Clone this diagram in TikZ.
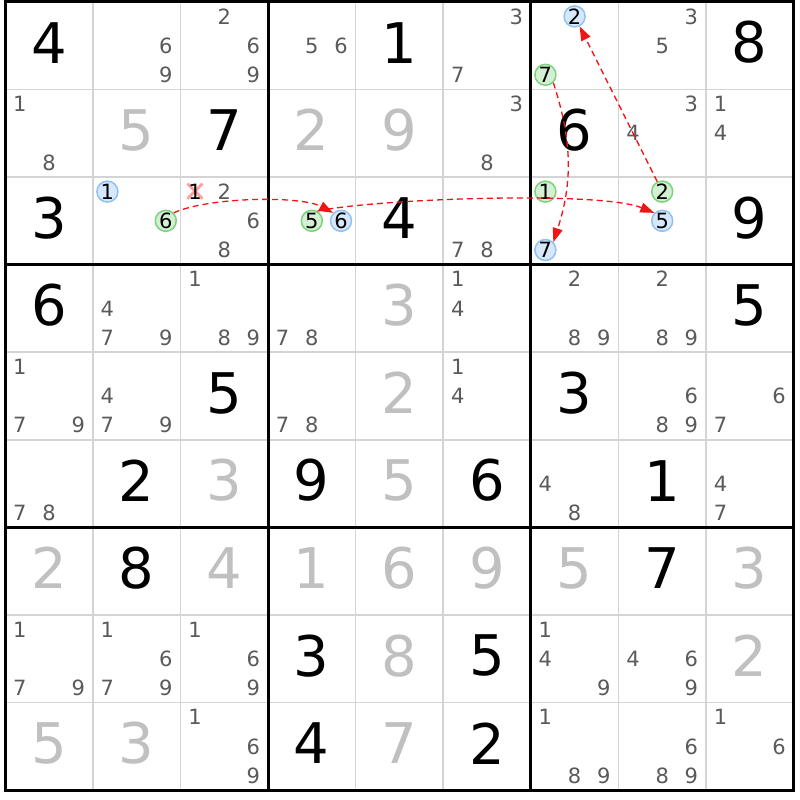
\documentclass[tikz,border=0pt]{standalone}
\usepackage{fontspec}
\setmainfont{DejaVu Sans}
\usetikzlibrary{arrows.meta}
\definecolor{candgray}{RGB}{90,90,90}
\definecolor{solvedgray}{RGB}{192,192,192}
\definecolor{gridgray}{RGB}{212,212,212}
\definecolor{ongreen}{RGB}{125,210,125}
\definecolor{ongreenfill}{RGB}{212,240,212}
\definecolor{offblue}{RGB}{145,192,242}
\definecolor{offbluefill}{RGB}{215,232,252}
\definecolor{chainred}{RGB}{240,20,20}
\definecolor{xpink}{RGB}{255,160,160}
\newcommand\CandD[4][cand]{%
  \pgfmathsetmacro\sdX{5.2+87.6*(#3-1)+14.6+29.2*mod(#4-1,3)}%
  \pgfmathsetmacro\sdY{1.8+87.6*(#2-1)+14.6+29.2*floor((#4-1)/3)}%
  \node[#1] (k#2#3#4) at (\sdX,-\sdY) {#4};}
\newcommand\BigD[4][given]{%
  \pgfmathsetmacro\sdX{5.2+87.6*(#3-0.5)}%
  \pgfmathsetmacro\sdY{1.8+87.6*(#2-0.5)-3}%
  \node[#1] (g#2#3) at (\sdX,-\sdY) {#4};}
\begin{document}
\begin{tikzpicture}[x=1pt,y=1pt,
  given/.style={font=\fontsize{56}{56}\selectfont, text=black, inner sep=0pt},
  solved/.style={given, text=solvedgray},
  cand/.style={font=\fontsize{21}{21}\selectfont, text=candgray, inner sep=0pt},
  candx/.style={cand, text=black},
  oncand/.style={cand, text=black, circle, draw=ongreen, fill=ongreenfill, line width=1.5pt, minimum size=21pt},
  offcand/.style={cand, text=black, circle, draw=offblue, fill=offbluefill, line width=1.5pt, minimum size=21pt},
  thingrid/.style={draw=gridgray, line width=1.6pt},
  thickgrid/.style={draw=black, line width=3pt},
  xmark/.style={draw=xpink, line width=2.8pt},
  chain/.style={draw=chainred, line width=1.3pt, dash pattern=on 6pt off 4pt, -{Triangle[length=14pt,width=10pt]}}
]
\useasboundingbox (0,0) rectangle (800,-800);
\fill[white] (0,0) rectangle (800,-800);
% grid
\foreach \i in {1,2,4,5,7,8} {
  \draw[thingrid] (5.2+87.6*\i,-1.8) -- (5.2+87.6*\i,-790.2);
  \draw[thingrid] (5.2,-1.8-87.6*\i) -- (793.6,-1.8-87.6*\i);
}
\foreach \i in {3,6} {
  \draw[thickgrid] (5.2+87.6*\i,-1.8) -- (5.2+87.6*\i,-790.2);
  \draw[thickgrid] (5.2,-1.8-87.6*\i) -- (793.6,-1.8-87.6*\i);
}
\draw[thickgrid] (5.2,-1.8) rectangle (793.6,-790.2);
% given digits
\foreach \r/\c/\d in {1/1/4,1/5/1,1/9/8,2/3/7,2/7/6,3/1/3,3/5/4,3/9/9,4/1/6,4/9/5,5/3/5,5/7/3,6/2/2,6/4/9,6/6/6,6/8/1,7/2/8,7/8/7,8/4/3,8/6/5,9/4/4,9/6/2}
  {\BigD{\r}{\c}{\d}}
% solved digits
\foreach \r/\c/\d in {2/2/5,2/4/2,2/5/9,4/5/3,5/5/2,6/3/3,6/5/5,7/1/2,7/3/4,7/4/1,7/5/6,7/6/9,7/7/5,7/9/3,8/5/8,8/9/2,9/1/5,9/2/3,9/5/7}
  {\BigD[solved]{\r}{\c}{\d}}
% candidates
\foreach \r/\c/\ds in {1/2/{6,9},1/3/{2,6,9},1/4/{5,6},1/6/{3,7},1/8/{3,5},
  2/1/{1,8},2/6/{3,8},2/8/{3,4},2/9/{1,4},
  3/3/{2,6,8},3/6/{7,8},
  4/2/{4,7,9},4/3/{1,8,9},4/4/{7,8},4/6/{1,4},4/7/{2,8,9},4/8/{2,8,9},
  5/1/{1,7,9},5/2/{4,7,9},5/4/{7,8},5/6/{1,4},5/8/{6,8,9},5/9/{6,7},
  6/1/{7,8},6/7/{4,8},6/9/{4,7},
  8/1/{1,7,9},8/2/{1,6,7,9},8/3/{1,6,9},8/7/{1,4,9},8/8/{4,6,9},
  9/3/{1,6,9},9/7/{1,8,9},9/8/{6,8,9},9/9/{1,6}}
  {\foreach \d in \ds {\CandD{\r}{\c}{\d}}}
% eliminated candidate
\draw[xmark] (187.5,-183.6) -- (202.5,-198.6);
\draw[xmark] (187.5,-198.6) -- (202.5,-183.6);
\CandD[candx]{3}{3}{1}
% chain candidates
\CandD[offcand]{1}{7}{2}
\CandD[oncand]{1}{7}{7}
\CandD[offcand]{3}{2}{1}
\CandD[oncand]{3}{2}{6}
\CandD[oncand]{3}{4}{5}
\CandD[offcand]{3}{4}{6}
\CandD[oncand]{3}{7}{1}
\CandD[offcand]{3}{7}{7}
\CandD[oncand]{3}{8}{2}
\CandD[offcand]{3}{8}{5}
% chain links
\draw[chain] (k326.45) to[out=25,in=152,looseness=0.6] (k346.135);
\draw[chain] (k345.60) to[out=12,in=158,looseness=0.45] (k385.135);
\draw[chain] (k382) -- (k172);
\draw[chain] (k177.-45) to[bend left=18] (k377.45);
\end{tikzpicture}
\end{document}
